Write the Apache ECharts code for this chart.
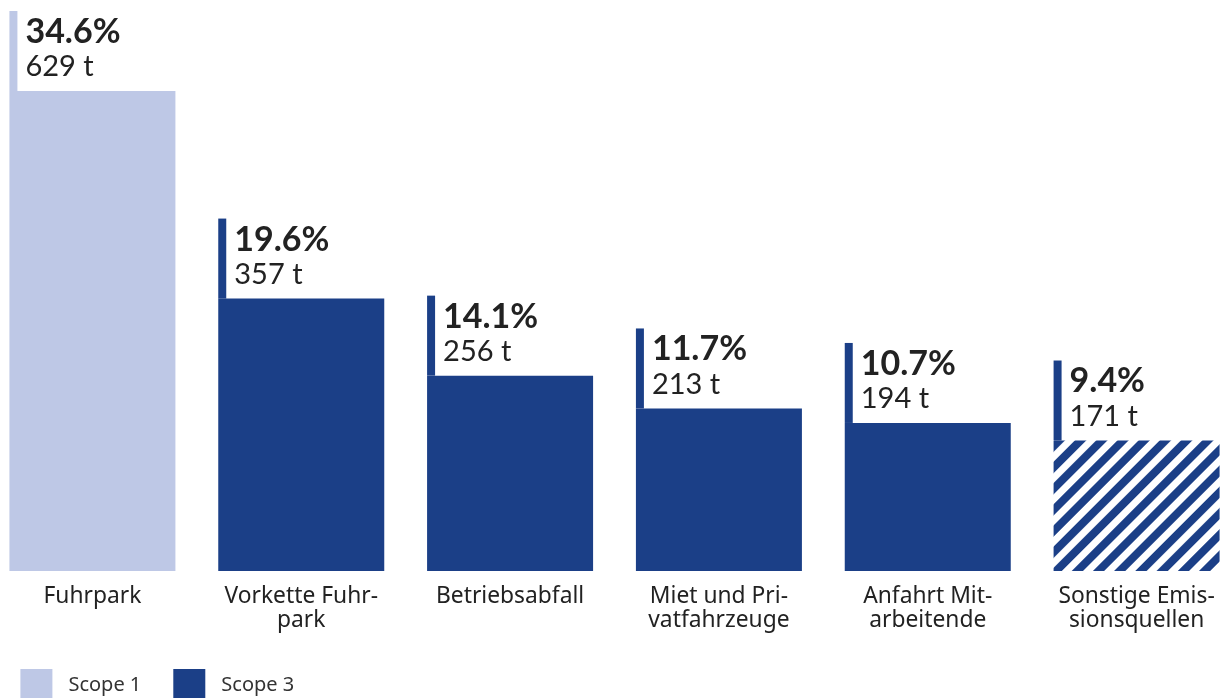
<!DOCTYPE html>
<html><head><meta charset="utf-8">
<script src="https://cdn.jsdelivr.net/npm/echarts@6/dist/echarts.min.js"></script>
<style>html,body{margin:0;padding:0;background:#fff;overflow:hidden}#c{position:absolute;left:-12.4px;top:0;width:1253px;height:698px}</style>
</head><body><div id="c"></div>
<script>
const categories = ['Fuhrpark', 'Vorkette Fuhr-\npark', 'Betriebsabfall', 'Miet und Pri-\nvatfahrzeuge', 'Anfahrt Mit-\narbeitende', 'Sonstige Emis-\nsionsquellen'];
const scope1 = [629, '-', '-', '-', '-', '-'];
const scope3 = ['-', 357, 256, 213, 194, 171];
const tonnes = [629, 357, 256, 213, 194, 171];
const percents = ['34.6%', '19.6%', '14.1%', '11.7%', '10.7%', '9.4%'];
const tonneLabels = ['629 t', '357 t', '256 t', '213 t', '194 t', '171 t'];

const LIGHT = '#BEC8E6', DARK = '#1B3F87';
const BAR_W = 166;
const chart = echarts.init(document.getElementById('c'));
chart.setOption({
  animation: false,
  grid: { left: 0, right: 0, top: 571 - 700 * 480 / 629, bottom: 127 },
  legend: {
    left: 32.4, top: 669, padding: 0, itemWidth: 32, itemHeight: 32, itemGap: 32,
    icon: 'rect', selectedMode: false,
    textStyle: { fontFamily: 'Noto Sans', fontSize: 20, color: '#333', padding: [0, 0, 0, 11] },
    data: ['Scope 1', 'Scope 3']
  },
  xAxis: {
    type: 'category', data: categories,
    axisLine: { show: false }, axisTick: { show: false },
    axisLabel: { margin: 14, fontFamily: 'Noto Sans', fontSize: 22.8, lineHeight: 24, color: '#222', interval: 0 }
  },
  yAxis: { type: 'value', min: 0, max: 700, show: false, splitLine: { show: false } },
  series: [
    { name: 'Scope 1', type: 'bar', stack: 's', barWidth: BAR_W, silent: true, itemStyle: { color: LIGHT }, data: scope1 },
    { name: 'Scope 3', type: 'bar', stack: 's', barWidth: BAR_W, silent: true, itemStyle: { color: DARK },
      data: scope3.map((v, i) => i === 5 ? { value: v, itemStyle: { color: '#fff', decal: { symbol: 'rect', symbolSize: 1, dashArrayX: [1, 0], dashArrayY: [7.5, 6.5], rotation: -Math.PI / 4, color: DARK } } } : v) },
    { name: 'labels', type: 'custom', silent: true, clip: false, z: 5,
      data: tonnes.map((v, i) => [i, v]),
      renderItem: function (params, api) {
        const i = api.value(0);
        const p = api.coord([i, api.value(1)]);
        const left = p[0] - BAR_W / 2;
        const top = p[1];
        return { type: 'group', children: [
          { type: 'rect', shape: { x: left, y: top - 80, width: 8, height: 80 }, style: { fill: i === 0 ? LIGHT : DARK } },
          { type: 'text', x: left + 16, y: top - 59, style: { text: percents[i], fill: '#222', font: 'bold 34px Lato', verticalAlign: 'middle', align: 'left' } },
          { type: 'text', x: left + 16, y: top - 24, style: { text: tonneLabels[i], fill: '#222', font: '29px Lato', verticalAlign: 'middle', align: 'left' } }
        ]};
      }
    }
  ]
});
</script></body></html>
